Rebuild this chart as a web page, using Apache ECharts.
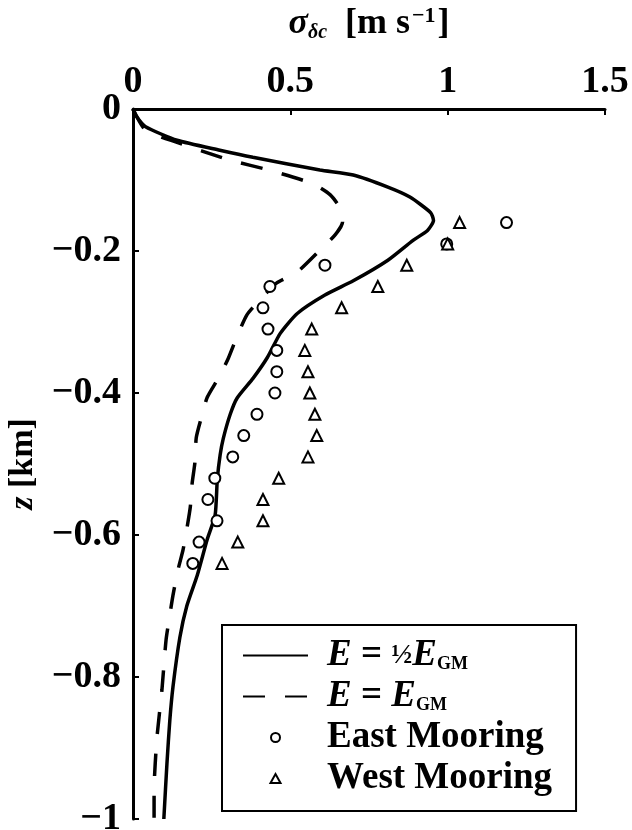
<!DOCTYPE html>
<html>
<head>
<meta charset="utf-8">
<title>sigma profile</title>
<script src="https://cdn.jsdelivr.net/npm/echarts@6/dist/echarts.min.js"></script>
<style>
  html, body { margin: 0; padding: 0; background: #fff; }
  #chart { width: 632px; height: 830px; }
</style>
</head>
<body>
<div id="chart"></div>
<script>
// x ticks (sigma, m/s) and y ticks (z, km)
var xTicks = [0, 0.5, 1, 1.5];
var zTicks = [-1, -0.8, -0.6, -0.4, -0.2, 0];

// model profile, E = 1/2 E_GM (solid)
var halfSigma = [0, 0.01, 0.04, 0.14, 0.276, 0.381, 0.594, 0.70, 0.81, 0.88, 0.946, 0.955, 0.936, 0.89, 0.81, 0.70, 0.61,
  0.522, 0.468, 0.427, 0.382, 0.331, 0.309, 0.287, 0.277, 0.268, 0.261, 0.236, 0.204, 0.171, 0.149, 0.127, 0.117, 0.108, 0.098];
var halfZ = [0, -0.01, -0.025, -0.044, -0.058, -0.068, -0.086, -0.093, -0.110, -0.124, -0.146, -0.157, -0.171, -0.185, -0.213, -0.242, -0.262,
  -0.288, -0.316, -0.350, -0.379, -0.407, -0.430, -0.464, -0.487, -0.521, -0.572, -0.606, -0.657, -0.70, -0.744, -0.814, -0.861, -0.921, -1.0];

// model profile, E = E_GM (dashed)
var fullSigma = [0, 0.04, 0.14, 0.30, 0.44, 0.57, 0.627, 0.662, 0.666, 0.643, 0.596, 0.521, 0.457, 0.403, 0.362, 0.331, 0.303,
  0.274, 0.236, 0.217, 0.201, 0.197, 0.188, 0.182, 0.172, 0.159, 0.143, 0.127, 0.118, 0.105, 0.092, 0.076, 0.067, 0.067];
var fullZ = [0, -0.03, -0.047, -0.071, -0.087, -0.105, -0.121, -0.142, -0.159, -0.177, -0.198, -0.230, -0.245, -0.269, -0.290, -0.320, -0.351,
  -0.377, -0.406, -0.435, -0.463, -0.497, -0.527, -0.561, -0.589, -0.621, -0.649, -0.685, -0.710, -0.748, -0.818, -0.886, -0.959, -1.0];

// mooring observations
var mooringZ = [-0.16, -0.19, -0.22, -0.25, -0.28, -0.31, -0.34, -0.37, -0.40, -0.43, -0.46, -0.49, -0.52, -0.55, -0.58, -0.61, -0.64];
var eastSigma = [1.187, 0.997, 0.61, 0.435, 0.413, 0.429, 0.457, 0.457, 0.451, 0.394, 0.352, 0.317, 0.26, 0.238, 0.267, 0.21, 0.19];
var westSigma = [1.038, 1.0, 0.87, 0.778, 0.663, 0.568, 0.546, 0.556, 0.562, 0.578, 0.584, 0.556, 0.463, 0.413, 0.413, 0.333, 0.283];

function pairs(xs, ys) {
  return xs.map(function (x, i) { return [x, ys[i]]; });
}

var serif = 'Liberation Serif';
var black = '#000';

var legendNames = {
  'E = 1/2 E_GM': '{g| }{i|E}{n| = }{f|½}{i|E}{s|GM}',
  'E = E_GM': '{g| }{i|E}{n| = }{i|E}{s|GM}',
  'East Mooring': '{g| }{n|East Mooring}',
  'West Mooring': '{g| }{n|West Mooring}'
};

var chart = echarts.init(document.getElementById('chart'));
chart.setOption({
  animation: false,
  backgroundColor: '#fff',
  grid: { left: 133, top: 109, right: 27, bottom: 11, containLabel: false, outerBoundsMode: 'none' },
  xAxis: {
    type: 'value',
    position: 'top',
    min: xTicks[0],
    max: xTicks[xTicks.length - 1],
    interval: 0.5,
    name: '{s|σ}{sub|δc}{n|  [m s}{sup|−1}{n|]}',
    nameLocation: 'middle',
    nameGap: 66,
    nameTextStyle: {
      rich: {
        s: { fontFamily: serif, fontStyle: 'italic', fontWeight: 'bold', fontSize: 36, color: black },
        sub: { fontFamily: serif, fontStyle: 'italic', fontWeight: 'bold', fontSize: 20, color: black, verticalAlign: 'bottom', padding: [16, 0, 0, 0] },
        n: { fontFamily: serif, fontWeight: 'bold', fontSize: 36, color: black },
        sup: { fontFamily: serif, fontWeight: 'bold', fontSize: 22, color: black, verticalAlign: 'top', padding: [0, 2, 16, 2] }
      }
    },
    axisLine: { show: true, lineStyle: { color: black, width: 3 } },
    axisTick: { show: true, inside: true, length: 6, lineStyle: { color: black, width: 2 } },
    axisLabel: { fontFamily: serif, fontWeight: 'bold', fontSize: 38, color: black, margin: 8 },
    splitLine: { show: false }
  },
  yAxis: {
    type: 'value',
    min: zTicks[0],
    max: zTicks[zTicks.length - 1],
    interval: 0.2,
    name: '{i|z}{n| [km]}',
    nameLocation: 'middle',
    nameGap: 93,
    nameRotate: 90,
    nameTextStyle: {
      rich: {
        i: { fontFamily: serif, fontStyle: 'italic', fontWeight: 'bold', fontSize: 34, color: black },
        n: { fontFamily: serif, fontWeight: 'bold', fontSize: 34, color: black }
      }
    },
    axisLine: { show: true, lineStyle: { color: black, width: 3 } },
    axisTick: { show: true, inside: true, length: 6, lineStyle: { color: black, width: 2 } },
    axisLabel: {
      fontFamily: serif, fontWeight: 'bold', fontSize: 38, color: black, margin: 12,
      formatter: function (v) { return v < 0 ? '−' + String(-v) : String(v); }
    },
    splitLine: { show: false }
  },
  legend: {
    orient: 'vertical',
    left: 222,
    top: 625,
    padding: [12, 24, 14, 20],
    itemWidth: 65,
    itemHeight: 9,
    itemGap: 4,
    borderColor: black,
    borderWidth: 2,
    backgroundColor: '#fff',
    data: [
      { name: 'E = 1/2 E_GM', itemStyle: { opacity: 0 } },
      { name: 'E = E_GM', itemStyle: { opacity: 0 } },
      { name: 'East Mooring' },
      {
        name: 'West Mooring',
        icon: 'path://M5,0 L10,9 L0,9 Z',
        itemStyle: { color: '#fff', borderColor: black, borderWidth: 2 }
      }
    ],
    formatter: function (name) { return legendNames[name]; },
    textStyle: {
      rich: {
        g: { width: 14, lineHeight: 36 },
        i: { fontFamily: serif, fontStyle: 'italic', fontWeight: 'bold', fontSize: 37, lineHeight: 36, color: black },
        n: { fontFamily: serif, fontWeight: 'bold', fontSize: 37, lineHeight: 36, color: black },
        f: { fontFamily: serif, fontWeight: 'bold', fontSize: 28, lineHeight: 36, color: black },
        s: { fontFamily: serif, fontWeight: 'bold', fontSize: 18, color: black, verticalAlign: 'bottom', padding: [14, 0, 0, 0] }
      }
    }
  },
  series: [
    {
      name: 'E = 1/2 E_GM',
      type: 'line',
      data: pairs(halfSigma, halfZ),
      symbol: 'none',
      smooth: 0.2,
      lineStyle: { color: black, width: 3.5 },
      itemStyle: { color: black },
      z: 3
    },
    {
      name: 'E = E_GM',
      type: 'line',
      data: pairs(fullSigma, fullZ),
      symbol: 'none',
      smooth: 0.2,
      lineStyle: { color: black, width: 3.5, type: [22, 20] },
      itemStyle: { color: black },
      z: 3
    },
    {
      name: 'East Mooring',
      type: 'scatter',
      data: pairs(eastSigma, mooringZ),
      symbol: 'emptyCircle',
      symbolSize: 11,
      symbolKeepAspect: true,
      itemStyle: { color: black, borderColor: black, borderWidth: 2, opacity: 1 },
      z: 4
    },
    {
      name: 'West Mooring',
      type: 'scatter',
      data: pairs(westSigma, mooringZ),
      symbol: 'emptyTriangle',
      symbolSize: 11,
      symbolKeepAspect: true,
      itemStyle: { color: black, borderColor: black, borderWidth: 2, opacity: 1 },
      z: 4
    }
  ]
});
</script>
</body>
</html>
